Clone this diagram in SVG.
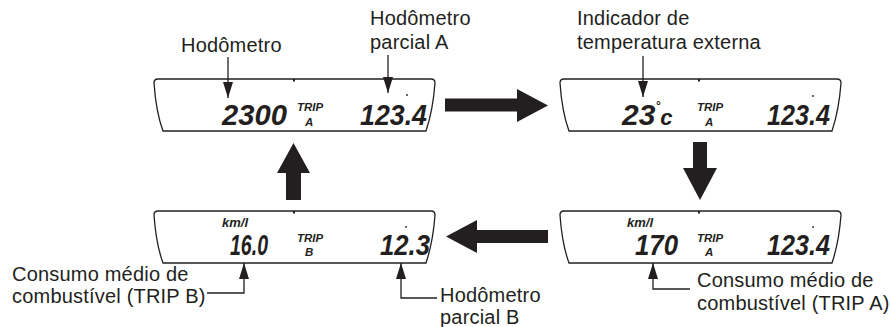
<svg xmlns="http://www.w3.org/2000/svg" width="891" height="327" viewBox="0 0 891 327">
<style>
.panel{fill:#fff;stroke:#231f20;stroke-width:1.3}
.tick{stroke:#231f20;stroke-width:2}
.lbl{font-family:"Liberation Sans",Arial,sans-serif;font-size:20px;fill:#231f20;letter-spacing:0.2px}
.lcd{font-family:"Liberation Sans",Arial,sans-serif;font-size:30px;font-weight:bold;font-style:italic;fill:#231f20}
.trip{font-family:"Liberation Sans",Arial,sans-serif;font-size:11.5px;font-weight:bold;font-style:italic;fill:#231f20}
.sub{font-family:"Liberation Sans",Arial,sans-serif;font-size:11.5px;font-weight:bold;font-style:italic;fill:#231f20}
.kml{font-family:"Liberation Sans",Arial,sans-serif;font-size:13px;font-weight:bold;font-style:italic;fill:#231f20}
.call{fill:none;stroke:#231f20;stroke-width:1.3}
.big{fill:#231f20}
.dot{fill:#231f20}
</style>
<defs>
<path id="frame" d="M158 79 L431 79 Q435 79 435 83 Q433 110 426 131 L163 131 Q156 112 154 83 Q154 79 158 79 Z"/>
<marker id="ah" viewBox="0 0 16 10" refX="16" refY="5" markerWidth="16" markerHeight="10" markerUnits="userSpaceOnUse" orient="auto">
<path d="M0 0 L16 5 L0 10 Z" fill="#231f20"/>
</marker>
</defs>

<g id="panel-odometer">
<use href="#frame" class="panel"/>
<line class="tick" x1="294" y1="79" x2="294" y2="81.5"/>
<text class="lcd" x="222" y="125" textLength="65" lengthAdjust="spacingAndGlyphs">2300</text>
<text class="trip" x="297" y="111">TRIP</text>
<text class="sub" x="305" y="125.5">A</text>
<text class="lcd" x="360" y="125" textLength="67" lengthAdjust="spacingAndGlyphs">123.4</text>
<circle class="dot" cx="407" cy="95" r="0.9"/>
</g>

<g id="panel-temperature">
<use href="#frame" class="panel" transform="translate(406,0)"/>
<line class="tick" x1="699" y1="79" x2="699" y2="81.5"/>
<text class="lcd" x="622" y="125">23<tspan font-size="12" dy="-15">°</tspan><tspan font-size="22" dy="15">c</tspan></text>
<text class="trip" x="697" y="111">TRIP</text>
<text class="sub" x="705" y="125.5">A</text>
<text class="lcd" x="767" y="125" textLength="63" lengthAdjust="spacingAndGlyphs">123.4</text>
<circle class="dot" cx="813" cy="96" r="0.9"/>
</g>

<g id="panel-tripb">
<use href="#frame" class="panel" transform="translate(0,132)"/>
<line class="tick" x1="294" y1="211" x2="294" y2="213.5"/>
<text class="kml" x="222" y="227">km/l</text>
<text class="lcd" x="230" y="255" textLength="38" lengthAdjust="spacingAndGlyphs">16.0</text>
<text class="trip" x="297" y="242">TRIP</text>
<text class="sub" x="305" y="256">B</text>
<text class="lcd" x="380" y="255" textLength="50" lengthAdjust="spacingAndGlyphs">12.3</text>
<circle class="dot" cx="406" cy="227" r="0.9"/>
</g>

<g id="panel-tripa">
<use href="#frame" class="panel" transform="translate(406,132)"/>
<line class="tick" x1="699" y1="211" x2="699" y2="213.5"/>
<text class="kml" x="627" y="227">km/l</text>
<text class="lcd" x="635" y="255" textLength="43" lengthAdjust="spacingAndGlyphs">170</text>
<text class="trip" x="697" y="242">TRIP</text>
<text class="sub" x="705" y="256">A</text>
<text class="lcd" x="767" y="255" textLength="63" lengthAdjust="spacingAndGlyphs">123.4</text>
<circle class="dot" cx="813" cy="227" r="0.9"/>
</g>

<g id="label-hodometro">
<text class="lbl" x="181" y="52">Hodômetro</text>
</g>
<g id="label-parcial-a">
<text class="lbl" x="370" y="25">Hodômetro</text>
<text class="lbl" x="370" y="49">parcial A</text>
</g>
<g id="label-temperatura">
<text class="lbl" x="577" y="25">Indicador de</text>
<text class="lbl" x="577" y="49">temperatura externa</text>
</g>
<g id="label-consumo-b">
<text class="lbl" x="12" y="281">Consumo médio de</text>
<text class="lbl" x="12" y="303">combustível (TRIP B)</text>
</g>
<g id="label-parcial-b">
<text class="lbl" x="440" y="302">Hodômetro</text>
<text class="lbl" x="440" y="324">parcial B</text>
</g>
<g id="label-consumo-a">
<text class="lbl" x="697" y="287">Consumo médio de</text>
<text class="lbl" x="697" y="310">combustível (TRIP A)</text>
</g>

<g id="connectors">
<line class="call" x1="228" y1="57" x2="228" y2="98" marker-end="url(#ah)"/>
<line class="call" x1="388" y1="55" x2="388" y2="93" marker-end="url(#ah)"/>
<line class="call" x1="643" y1="56" x2="643" y2="97" marker-end="url(#ah)"/>
<polyline class="call" points="207,293 244,293 244,263" marker-end="url(#ah)"/>
<polyline class="call" points="437,298 401,298 401,263" marker-end="url(#ah)"/>
<polyline class="call" points="690,289 653,289 653,263" marker-end="url(#ah)"/>
<polygon class="big" points="445,98.5 517,98.5 517,89 548,105.5 517,122 517,111.5 445,111.5"/>
<polygon class="big" points="693,142 707,142 707,168 717,168 700,200 683,168 693,168"/>
<polygon class="big" points="477,230 548,230 548,243 477,243 477,253 446,236.5 477,220"/>
<polygon class="big" points="286,200 301,200 301,173 310,173 293.5,143 277,173 286,173"/>
</g>
</svg>
